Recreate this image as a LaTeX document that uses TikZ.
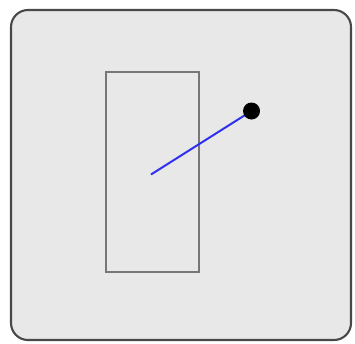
\documentclass[tikz,border=0pt]{standalone}
\definecolor{panelfill}{HTML}{E8E8E8}
\definecolor{panelborder}{HTML}{484848}
\definecolor{rectborder}{HTML}{777777}
\definecolor{linkblue}{HTML}{3030F0}
\tikzset{
  panel/.style={draw=panelborder, line width=2.1pt, fill=panelfill, rounded corners=17pt},
  box/.style={draw=rectborder, line width=1.6pt, fill=none},
  link/.style={draw=linkblue, line width=2pt},
  knob/.style={circle, fill=black, minimum size=17pt, inner sep=0pt}
}
\begin{document}
\begin{tikzpicture}[x=1pt,y=-1pt]
\useasboundingbox (0,0) rectangle (355,343);
\draw[panel] (11,10) rectangle (351,340);
\draw[box] (106,72) rectangle (199,272);
\coordinate (start) at (151,174.5);
\coordinate (knobc) at (251.5,111);
\draw[link] (start) -- (knobc);
\node[knob] (dot) at (knobc) {};
\end{tikzpicture}
\end{document}
